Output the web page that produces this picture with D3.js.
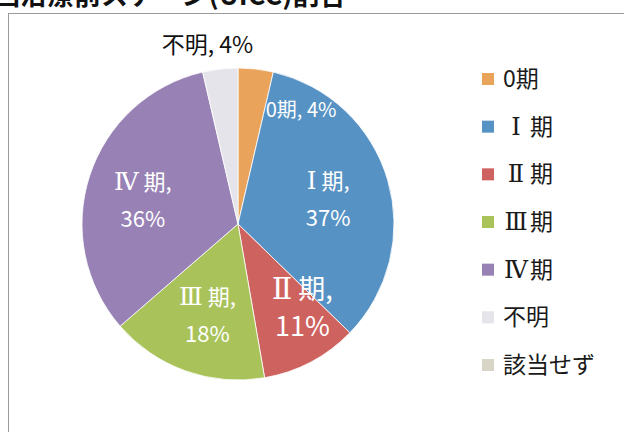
<!DOCTYPE html>
<html>
<head>
<meta charset="utf-8">
<script src="https://cdn.jsdelivr.net/npm/d3@7"></script>
<style>
  html, body { margin: 0; padding: 0; background: #fff; }
  svg { display: block; }
</style>
</head>
<body>
<svg id="chart" width="624" height="432"></svg>
<script>
// Stage distribution before first treatment (UICC)
const stages = ["0期", "Ⅰ期", "Ⅱ期", "Ⅲ期", "Ⅳ期", "不明", "該当せず"];
const romans = ["", "Ⅰ", "Ⅱ", "Ⅲ", "Ⅳ", "", ""];
const shares = [4, 37, 11, 18, 36, 4, 0];
const colors = ["#E9A35A", "#5792C4", "#CE625F", "#A9C35A", "#9882B5", "#E4E4EA", "#D8D4C6"];

const svg = d3.select("#chart");
const W = 624, H = 432;
const cx = 238, cy = 224, R = 156;
const sans = "'Noto Sans CJK JP', 'Noto Sans', sans-serif";
const serif = "'DejaVu Serif', 'Liberation Serif', serif";

// Chart frame
svg.append("rect")
  .attr("x", 8.5).attr("y", 13.5)
  .attr("width", W + 20).attr("height", H)
  .attr("fill", "#fff").attr("stroke", "#9a9a9a").attr("stroke-width", 1);

// Title (runs off the top edge)
svg.append("text")
  .attr("x", -34).attr("y", 5)
  .attr("font-family", sans).attr("font-weight", "bold")
  .attr("font-size", 27).attr("fill", "#111")
  .text("初回治療前ステージ(UICC)割合");

const data = stages.map((s, i) => ({ stage: s, roman: romans[i], value: shares[i], color: colors[i] }));

const pie = d3.pie().sort(null).value(d => d.value);
const arcs = pie(data);
const arc = d3.arc().innerRadius(0).outerRadius(R);

const g = svg.append("g").attr("transform", `translate(${cx},${cy})`);

g.selectAll("path.slice")
  .data(arcs.filter(a => a.data.value > 0))
  .join("path")
  .attr("class", "slice")
  .attr("d", arc)
  .attr("fill", d => d.data.color)
  .attr("stroke", "#fff")
  .attr("stroke-width", 0.8);

// Data labels: placement along each slice's bisector
const labelLayout = {
  "0期":  { r: 115, dx: 50, dy: 0, size: 20, oneLine: true, color: "#fff" },
  "Ⅰ期": { r: 94, dx: 0, dy: 2, size: 22, color: "#fff" },
  "Ⅱ期": { r: 95, dx: 20, dy: 0, size: 27, color: "#fff" },
  "Ⅲ期": { r: 97, dx: 2, dy: 0, size: 22, color: "#fff" },
  "Ⅳ期": { r: 100, dx: 0, dy: 8, size: 22, color: "#fff" },
  "不明": { r: 180, dx: -10, dy: 0, size: 23, oneLine: true, color: "#111" }
};

// Writes a stage name; Roman numerals are set in a serif face, a little larger
function writeName(sel, d, suffix) {
  if (d.roman) {
    sel.append("tspan").attr("font-family", serif).attr("font-size", "1.12em").text(d.roman);
    sel.append("tspan").attr("dx", "0.22em").text(d.stage.slice(d.roman.length) + suffix);
  } else {
    sel.append("tspan").text(d.stage + suffix);
  }
}

arcs.filter(a => a.data.value > 0).forEach(a => {
  const L = labelLayout[a.data.stage];
  const mid = (a.startAngle + a.endAngle) / 2;
  const x = Math.sin(mid) * L.r + L.dx;
  const y = -Math.cos(mid) * L.r + L.dy;
  const t = g.append("text")
    .attr("text-anchor", "middle")
    .attr("font-family", sans)
    .attr("font-size", L.size)
    .attr("fill", L.color);
  const pct = a.data.value + "%";
  if (L.oneLine) {
    t.attr("x", x).attr("y", y + L.size * 0.35);
    writeName(t, a.data, ",");
    t.append("tspan").text(" " + pct);
  } else {
    const lh = 37;
    const line1 = t.append("tspan").attr("x", x).attr("y", y - lh / 2 + L.size * 0.35);
    writeName(line1, a.data, ",");
    t.append("tspan").attr("x", x).attr("y", y + lh / 2 + L.size * 0.35).text(pct);
  }
});

// Legend
const legend = svg.append("g").attr("transform", "translate(482,79)");
const legendY = d3.scalePoint().domain(stages).range([0, 286]);
const item = legend.selectAll("g.item")
  .data(data)
  .join("g")
  .attr("class", "item")
  .attr("transform", d => `translate(0,${legendY(d.stage)})`);
item.append("rect")
  .attr("x", 0).attr("y", -6).attr("width", 12).attr("height", 12)
  .attr("fill", d => d.color);
// Roman numerals centred in a full-width cell, like the CJK glyphs around them
item.filter(d => d.roman).append("text")
  .attr("x", 34).attr("y", 8)
  .attr("text-anchor", "middle")
  .attr("font-family", serif)
  .attr("font-size", 24)
  .attr("fill", "#1a1a1a")
  .text(d => d.roman);
item.append("text")
  .attr("x", d => d.roman ? 48 : 21)
  .attr("y", 8)
  .attr("font-family", sans)
  .attr("font-size", 23)
  .attr("fill", "#1a1a1a")
  .text(d => d.roman ? d.stage.slice(d.roman.length) : d.stage);
</script>
</body>
</html>
